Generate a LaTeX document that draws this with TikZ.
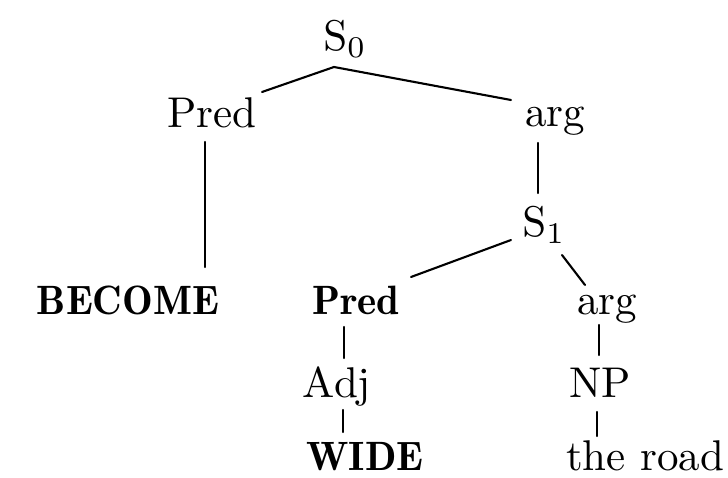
\documentclass[tikz,border=0pt]{standalone}
\newcommand\rmt[1]{\scalebox{4.3}{#1}}
\newcommand\bft[1]{\scalebox{4.1}{\fontseries{b}\selectfont #1}}
\tikzset{
  lbl/.style={inner sep=0pt, anchor=base},
  edge/.style={line width=2.1pt, line cap=round}
}
\begin{document}
\begin{tikzpicture}[x=1pt, y=-1pt]
\useasboundingbox (0,0) rectangle (728,478);
% nodes
\node[lbl] (S0) at (345,51) {\rmt{$\mathrm{S}_0$}};
\node[lbl] (P1) at (212,128) {\rmt{Pred}};
\node[lbl] (A1) at (555,127) {\rmt{arg}};
\node[lbl] (S1) at (544,237) {\rmt{$\mathrm{S}_1$}};
\node[lbl] (BE) at (128,315) {\bft{BECOME}};
\node[lbl] (P2) at (356,315) {\bft{Pred}};
\node[lbl] (A2) at (607,315) {\rmt{arg}};
\node[lbl] (ADJ) at (337,397) {\rmt{Adj}};
\node[lbl] (NP) at (600,397) {\rmt{NP}};
\node[lbl] (WI) at (365,470) {\bft{WIDE}};
\node[lbl] (RD) at (645,470) {\rmt{the road}};
% connectors
\draw[edge] ([shift={(50,-36)}]P1.base) -- ([shift={(-11,16)}]S0.base) -- ([shift={(-44,-27)}]A1.base);
\draw[edge] ([shift={(-7,14)}]P1.base) -- ([shift={(77,-48)}]BE.base);
\draw[edge] ([shift={(-17,16)}]A1.base) -- ([shift={(-6,-44)}]S1.base);
\draw[edge] ([shift={(-33,3)}]S1.base) -- ([shift={(55,-38)}]P2.base);
\draw[edge] ([shift={(18,18)}]S1.base) -- ([shift={(-22,-30)}]A2.base);
\draw[edge] ([shift={(-12,12)}]P2.base) -- ([shift={(7,-39)}]ADJ.base);
\draw[edge] ([shift={(6,13)}]ADJ.base) -- ([shift={(-22,-38)}]WI.base);
\draw[edge] ([shift={(-8,10)}]A2.base) -- ([shift={(-1,-42)}]NP.base);
\draw[edge] ([shift={(-3,15)}]NP.base) -- ([shift={(-48,-34)}]RD.base);
\end{tikzpicture}
\end{document}
